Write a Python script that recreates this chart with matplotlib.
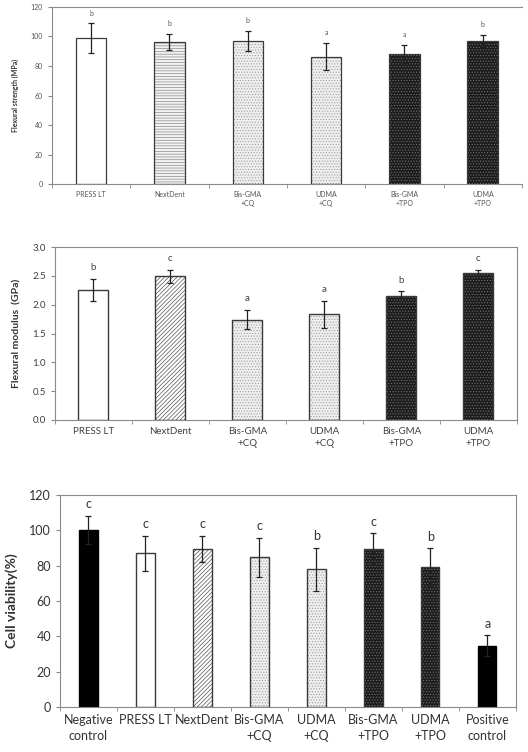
import numpy as np
import matplotlib
matplotlib.use('Agg')
import matplotlib.pyplot as plt

plt.rcParams['font.family'] = ['Lato', 'DejaVu Sans']
plt.rcParams['hatch.linewidth'] = 0.5

# Datos
grupos6 = ['PRESS LT', 'NextDent', 'Bis-GMA\n+CQ', 'UDMA\n+CQ', 'Bis-GMA\n+TPO', 'UDMA\n+TPO']
grupos8 = ['Negative\ncontrol', 'PRESS LT', 'NextDent', 'Bis-GMA\n+CQ', 'UDMA\n+CQ',
           'Bis-GMA\n+TPO', 'UDMA\n+TPO', 'Positive\ncontrol']

resistencia = [99, 96.3, 97, 86.4, 88.3, 97]
resistencia_err = [10, 5.5, 7, 9.2, 6, 4]
resistencia_letras = ['b', 'b', 'b', 'a', 'a', 'b']

modulo = [2.25, 2.49, 1.74, 1.83, 2.15, 2.55]
modulo_err = [0.19, 0.12, 0.17, 0.23, 0.08, 0.06]
modulo_letras = ['b', 'c', 'a', 'a', 'b', 'c']

viabilidad = [100.3, 87, 89.4, 84.8, 77.9, 89.4, 79.3, 34.8]
viabilidad_err = [8, 10, 7.5, 11, 12.3, 9, 10.8, 6]
viabilidad_letras = ['c', 'c', 'c', 'c', 'b', 'c', 'b', 'a']

# estilo de cada tipo de barra: (relleno, hatch, color del hatch)
estilos = {
    'blanco': ('white', None, None),
    'negro': ('black', None, None),
    'rayas_h': ('#f2f2f2', '------', '#8a8a8a'),
    'rayas_d': ('white', '////////', '#555555'),
    'puntos': ('#efefef', '......', '#a0a0a0'),
    'oscuro': ('#1c1c1c', '......', '#707070'),
}
estilo6_p1 = ['blanco', 'rayas_h', 'puntos', 'puntos', 'oscuro', 'oscuro']
estilo6_p2 = ['blanco', 'rayas_d', 'puntos', 'puntos', 'oscuro', 'oscuro']
estilo8 = ['negro', 'blanco', 'rayas_d', 'puntos', 'puntos', 'oscuro', 'oscuro', 'negro']


def panel(ax, etiquetas, valores, errores, letras, estilos_barra, ancho, ylim, yticks,
          ylabel, fs_ticks, fs_label, color_txt, off_letra, fmt='{:g}', lw_barra=1.0):
    x = np.arange(len(valores))
    for i, (v, e) in enumerate(zip(valores, errores)):
        fc, h, hc = estilos[estilos_barra[i]]
        ax.bar(x[i], v, width=ancho, color=fc, hatch=h, edgecolor=hc if h else fc,
               linewidth=0, zorder=2)
        ax.bar(x[i], v, width=ancho, fill=False, edgecolor='#3a3a3a' if fc != 'black' else 'black',
               linewidth=lw_barra, zorder=3)
    ax.errorbar(x, valores, yerr=errores, fmt='none', ecolor='#222222', elinewidth=0.9,
                capsize=2.5, capthick=0.9, zorder=4)
    for i in range(len(valores)):
        ax.text(x[i], valores[i] + errores[i] + off_letra, letras[i], ha='center', va='bottom',
                fontsize=fs_ticks, color=color_txt)
    ax.set_xlim(-0.5, len(valores) - 0.5)
    ax.set_ylim(*ylim)
    ax.set_yticks(yticks)
    ax.set_yticklabels([fmt.format(t) for t in yticks])
    ax.set_xticks(x)
    ax.set_xticklabels(etiquetas, fontsize=fs_ticks, color=color_txt, linespacing=1.4)
    ax.set_xticks(np.arange(len(valores) + 1) - 0.5, minor=True)
    ax.tick_params(axis='x', which='major', length=0, pad=5)
    ax.tick_params(axis='x', which='minor', length=3, color='#888888', direction='out')
    ax.tick_params(axis='y', labelsize=fs_ticks, colors=color_txt, length=3, color='#888888')
    ax.set_ylabel(ylabel, fontsize=fs_label, fontweight='bold', color='#333333', labelpad=8)
    for s in ax.spines.values():
        s.set_color('#8a8a8a')
        s.set_linewidth(0.8)


fig = plt.figure(figsize=(5.28, 7.52), dpi=100)

ax1 = fig.add_axes([0.0985, 0.7553, 0.89, 0.2354])
panel(ax1, grupos6, resistencia, resistencia_err, resistencia_letras, estilo6_p1, 0.39,
      (0, 120), np.arange(0, 121, 20), 'Flexural strength (MPa)', 5, 5, '#555555', 4.5,
      lw_barra=0.9)
ax1.spines['right'].set_visible(False)

ax2 = fig.add_axes([0.104, 0.4415, 0.875, 0.23])
panel(ax2, grupos6, modulo, modulo_err, modulo_letras, estilo6_p2, 0.39,
      (0, 3.0), np.arange(0, 3.01, 0.5), 'Flexural modulus  (GPa)', 7, 7.5, '#404040', 0.12,
      fmt='{:.1f}')

ax3 = fig.add_axes([0.1136, 0.0598, 0.8634, 0.282])
panel(ax3, grupos8, viabilidad, viabilidad_err, viabilidad_letras, estilo8, 0.32,
      (0, 120), np.arange(0, 121, 20), 'Cell viability(%)', 9, 10, '#333333', 3)

plt.savefig('out.png', dpi=100)
